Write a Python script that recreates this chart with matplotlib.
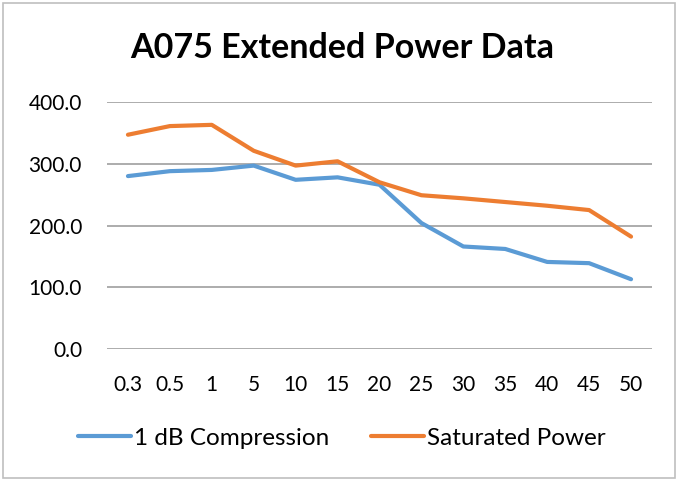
import matplotlib.pyplot as plt
from matplotlib.patches import Rectangle

plt.rcParams['font.family'] = ['Lato', 'DejaVu Sans']

# frequency categories and power values
freqs = ['0.3', '0.5', '1', '5', '10', '15', '20', '25', '30', '35', '40', '45', '50']
compression = [280, 288, 290, 297, 274, 278, 266, 204, 166, 162, 141, 139, 113]
saturated = [347, 361, 363, 321, 297, 304, 270, 249, 244, 238, 232, 225, 182]

fig = plt.figure(figsize=(6.77, 4.8), dpi=100)
ax = fig.add_axes([107 / 677, 1 - 349 / 480, 545 / 677, 247 / 480])

x = range(len(freqs))
ax.plot(x, compression, color='#5B9BD5', lw=3, label='1 dB Compression', solid_capstyle='round')
ax.plot(x, saturated, color='#ED7D31', lw=3, label='Saturated Power', solid_capstyle='round')

ax.set_xlim(-0.5, len(freqs) - 0.5)
ax.set_ylim(0, 400)
ax.set_yticks([0, 100, 200, 300, 400])
ax.set_yticklabels(['%.1f' % v for v in [0, 100, 200, 300, 400]])
ax.set_xticks(list(x))
ax.set_xticklabels(freqs)
ax.tick_params(length=0, labelsize=15)
ax.tick_params(axis='x', pad=19)
ax.tick_params(axis='y', pad=18)
ax.yaxis.grid(True, color='#A6A6A6', lw=1.3)
ax.set_axisbelow(True)
for s in ax.spines.values():
    s.set_visible(False)

fig.text(0.505, 1 - 48 / 480, 'A075 Extended Power Data', ha='center', va='center',
         fontsize=24.5, fontweight='bold')

fig.legend(loc='center', bbox_to_anchor=(0.505, 1 - 438 / 480), ncol=2, frameon=False,
           fontsize=17.5, handlelength=2.2, handletextpad=0.12, columnspacing=1.7)

# chart border
fig.patches.append(Rectangle((3 / 677, 2 / 480), 672 / 677, 475 / 480, transform=fig.transFigure,
                             fill=False, edgecolor='#BFBFBF', lw=1.2))

fig.savefig('out.png', dpi=100)
